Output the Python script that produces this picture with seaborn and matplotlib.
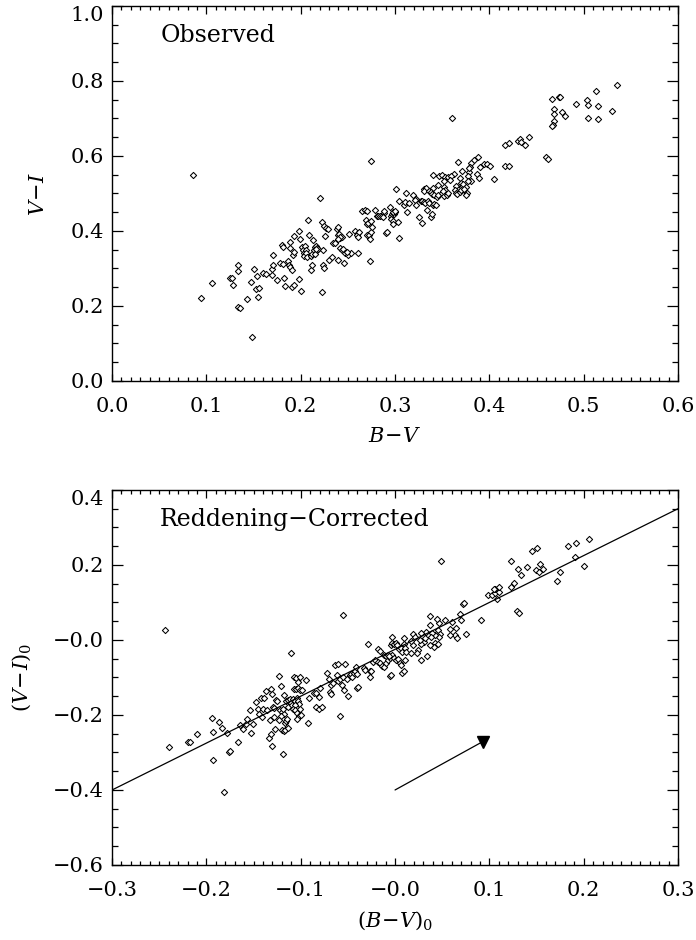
import matplotlib
matplotlib.use("Agg")
import numpy as np
import pandas as pd
import seaborn as sns
import matplotlib.pyplot as plt
from matplotlib.ticker import MultipleLocator

# ---------------- data: observed colours ----------------
bv_obs = [
    0.086, 0.275, 0.220, 0.094, 0.106, 0.125, 0.127, 0.128, 0.133, 0.134,
    0.134, 0.136, 0.148, 0.143, 0.147, 0.150, 0.154, 0.153, 0.156, 0.155,
    0.160, 0.163, 0.170, 0.170, 0.171, 0.171, 0.175, 0.178, 0.181, 0.180,
    0.181, 0.182, 0.183, 0.187, 0.188, 0.189, 0.189, 0.189, 0.191, 0.191,
    0.192, 0.193, 0.193, 0.193, 0.198, 0.198, 0.199, 0.200, 0.201, 0.202,
    0.203, 0.203, 0.205, 0.206, 0.206, 0.207, 0.208, 0.209, 0.211, 0.212,
    0.211, 0.212, 0.213, 0.214, 0.215, 0.216, 0.217, 0.217, 0.218, 0.215,
    0.216, 0.223, 0.224, 0.224, 0.225, 0.223, 0.225, 0.227, 0.229, 0.226,
    0.230, 0.233, 0.234, 0.236, 0.239, 0.238, 0.240, 0.240, 0.241, 0.242,
    0.244, 0.242, 0.240, 0.242, 0.244, 0.245, 0.247, 0.250, 0.253, 0.249,
    0.246, 0.251, 0.258, 0.261, 0.260, 0.262, 0.261, 0.261, 0.265, 0.268,
    0.270, 0.269, 0.270, 0.271, 0.270, 0.272, 0.273, 0.274, 0.273, 0.275,
    0.276, 0.279, 0.281, 0.282, 0.284, 0.286, 0.288, 0.287, 0.288, 0.290,
    0.291, 0.296, 0.297, 0.299, 0.300, 0.298, 0.300, 0.295, 0.296, 0.298,
    0.298, 0.303, 0.304, 0.301, 0.304, 0.309, 0.311, 0.312, 0.313, 0.315,
    0.360, 0.535, 0.466, 0.474, 0.475, 0.469, 0.468, 0.469, 0.467, 0.466,
    0.477, 0.480, 0.492, 0.503, 0.505, 0.505, 0.513, 0.515, 0.515, 0.530,
    0.460, 0.462, 0.442, 0.438, 0.430, 0.432, 0.433, 0.417, 0.421, 0.417,
    0.421, 0.405, 0.388, 0.384, 0.380, 0.379, 0.378, 0.378, 0.367, 0.394,
    0.397, 0.401, 0.390, 0.387, 0.389, 0.377, 0.380, 0.377, 0.371, 0.363,
    0.340, 0.347, 0.350, 0.353, 0.356, 0.359, 0.358, 0.352, 0.369, 0.370,
    0.346, 0.352, 0.365, 0.368, 0.371, 0.372, 0.375, 0.331, 0.333, 0.331,
    0.340, 0.336, 0.338, 0.339, 0.341, 0.319, 0.322, 0.321, 0.322, 0.327,
    0.329, 0.331, 0.332, 0.335, 0.336, 0.340, 0.341, 0.343, 0.344, 0.346,
    0.350, 0.352, 0.353, 0.355, 0.356, 0.351, 0.364, 0.365, 0.366, 0.369,
    0.370, 0.373, 0.376, 0.375, 0.325, 0.329, 0.338, 0.339, 0.334,
]
vi_obs = [
    0.549, 0.587, 0.487, 0.220, 0.261, 0.274, 0.275, 0.256, 0.292, 0.310,
    0.198, 0.195, 0.117, 0.219, 0.263, 0.298, 0.280, 0.244, 0.249, 0.224,
    0.289, 0.285, 0.283, 0.298, 0.309, 0.337, 0.270, 0.315, 0.312, 0.362,
    0.356, 0.275, 0.254, 0.320, 0.309, 0.355, 0.305, 0.370, 0.251, 0.297,
    0.335, 0.345, 0.257, 0.386, 0.273, 0.399, 0.379, 0.239, 0.357, 0.349,
    0.341, 0.332, 0.360, 0.349, 0.340, 0.330, 0.428, 0.390, 0.332, 0.339,
    0.296, 0.309, 0.376, 0.349, 0.357, 0.360, 0.349, 0.354, 0.351, 0.339,
    0.352, 0.424, 0.349, 0.309, 0.301, 0.237, 0.412, 0.408, 0.405, 0.386,
    0.323, 0.330, 0.367, 0.368, 0.323, 0.404, 0.410, 0.389, 0.392, 0.380,
    0.385, 0.385, 0.378, 0.355, 0.349, 0.352, 0.342, 0.336, 0.342, 0.344,
    0.315, 0.393, 0.400, 0.395, 0.390, 0.397, 0.385, 0.342, 0.454, 0.457,
    0.452, 0.430, 0.418, 0.420, 0.390, 0.388, 0.379, 0.396, 0.319, 0.426,
    0.411, 0.457, 0.440, 0.440, 0.441, 0.440, 0.449, 0.438, 0.452, 0.395,
    0.396, 0.441, 0.444, 0.446, 0.450, 0.450, 0.453, 0.465, 0.432, 0.426,
    0.419, 0.425, 0.381, 0.513, 0.481, 0.469, 0.477, 0.500, 0.450, 0.475,
    0.700, 0.789, 0.752, 0.757, 0.757, 0.725, 0.712, 0.693, 0.682, 0.681,
    0.716, 0.707, 0.739, 0.750, 0.735, 0.702, 0.772, 0.733, 0.698, 0.719,
    0.598, 0.593, 0.650, 0.630, 0.641, 0.644, 0.637, 0.628, 0.634, 0.573,
    0.574, 0.538, 0.596, 0.588, 0.580, 0.570, 0.556, 0.567, 0.585, 0.579,
    0.579, 0.574, 0.570, 0.552, 0.542, 0.547, 0.532, 0.534, 0.560, 0.553,
    0.548, 0.547, 0.548, 0.545, 0.545, 0.547, 0.536, 0.534, 0.540, 0.527,
    0.522, 0.518, 0.521, 0.513, 0.516, 0.526, 0.518, 0.513, 0.515, 0.506,
    0.514, 0.507, 0.505, 0.498, 0.497, 0.497, 0.484, 0.483, 0.468, 0.480,
    0.481, 0.477, 0.474, 0.481, 0.474, 0.470, 0.472, 0.470, 0.490, 0.497,
    0.502, 0.493, 0.508, 0.497, 0.502, 0.506, 0.508, 0.500, 0.499, 0.504,
    0.508, 0.511, 0.502, 0.496, 0.436, 0.420, 0.438, 0.446, 0.456,
]

# ---------------- data: reddening-corrected colours ----------------
bv_0 = [
    -0.244, -0.240, -0.219, -0.217, -0.210, -0.194, -0.193, -0.193, -0.187, -0.183,
    -0.181, -0.178, -0.176, -0.175, -0.167, -0.164, -0.161, -0.158, -0.157, -0.154,
    -0.153, -0.151, -0.147, -0.145, -0.144, -0.142, -0.139, -0.141, -0.140, -0.136,
    -0.137, -0.134, -0.133, -0.132, -0.131, -0.130, -0.130, -0.129, -0.128, -0.128,
    -0.127, -0.126, -0.125, -0.123, -0.122, -0.120, -0.118, -0.119, -0.121, -0.123,
    -0.121, -0.120, -0.118, -0.117, -0.119, -0.118, -0.117, -0.116, -0.116, -0.114,
    -0.113, -0.113, -0.115, -0.111, -0.110, -0.109, -0.110, -0.107, -0.105, -0.107,
    -0.105, -0.103, -0.103, -0.101, -0.108, -0.106, -0.104, -0.103, -0.102, -0.106,
    -0.108, -0.106, -0.104, -0.101, -0.102, -0.100, -0.104, -0.101, -0.099, -0.094,
    -0.092, -0.091, -0.086, -0.084, -0.084, -0.081, -0.077, -0.081, -0.080, -0.072,
    -0.070, -0.068, -0.069, -0.068, -0.066, -0.064, -0.061, -0.062, -0.060, -0.058,
    -0.058, -0.056, -0.055, -0.054, -0.053, -0.051, -0.050, -0.048, -0.047, -0.046,
    -0.044, -0.042, -0.041, -0.040, -0.040, -0.039, -0.033, -0.032, -0.027, -0.025,
    -0.029, -0.027, -0.023, -0.021, -0.018, -0.016, -0.018, -0.016, -0.014, -0.012,
    -0.012, -0.010, -0.008, -0.010, -0.007, -0.005, -0.003, -0.006, -0.004, -0.003,
    -0.001, 0.001, 0.002, -0.003, 0.004, 0.006, 0.007, 0.009, 0.010, 0.011,
    0.012, -0.001, 0.001, 0.003, -0.005, -0.004, 0.007, 0.009, 0.005, 0.006,
    0.011, -0.055, 0.049, 0.123, 0.130, 0.134, 0.140, 0.145, 0.150, 0.149,
    0.153, 0.157, 0.154, 0.172, 0.175, 0.183, 0.192, 0.191, 0.200, 0.206,
    0.123, 0.126, 0.129, 0.131, 0.108, 0.099, 0.103, 0.106, 0.110, 0.106,
    0.110, 0.105, 0.091, 0.072, 0.073, 0.069, 0.070, 0.075, 0.065, 0.064,
    0.066, 0.058, 0.058, 0.060, 0.053, 0.047, 0.044, 0.037, 0.046, 0.048,
    0.047, 0.042, 0.039, 0.038, 0.037, 0.042, 0.046, 0.041, 0.037, 0.031,
    0.028, 0.032, 0.033, 0.028, 0.019, 0.021, 0.026, 0.024, 0.023, 0.019,
    0.017, 0.017, 0.028, 0.034,
]
vi_0 = [
    0.026, -0.285, -0.272, -0.272, -0.251, -0.208, -0.245, -0.321, -0.219, -0.235,
    -0.406, -0.248, -0.299, -0.296, -0.273, -0.228, -0.238, -0.225, -0.212, -0.187,
    -0.249, -0.223, -0.165, -0.184, -0.198, -0.154, -0.154, -0.205, -0.183, -0.187,
    -0.136, -0.262, -0.213, -0.251, -0.131, -0.144, -0.283, -0.178, -0.181, -0.205,
    -0.237, -0.160, -0.164, -0.095, -0.187, -0.192, -0.197, -0.185, -0.203, -0.213,
    -0.123, -0.240, -0.242, -0.240, -0.305, -0.147, -0.222, -0.215, -0.164, -0.160,
    -0.180, -0.236, -0.210, -0.157, -0.167, -0.174, -0.035, -0.098, -0.102, -0.132,
    -0.130, -0.128, -0.113, -0.100, -0.158, -0.164, -0.156, -0.162, -0.171, -0.174,
    -0.185, -0.188, -0.194, -0.183, -0.204, -0.199, -0.210, -0.133, -0.133, -0.107,
    -0.221, -0.155, -0.142, -0.142, -0.179, -0.183, -0.180, -0.151, -0.129, -0.089,
    -0.105, -0.121, -0.138, -0.144, -0.116, -0.067, -0.063, -0.094, -0.109, -0.105,
    -0.204, -0.119, -0.098, -0.134, -0.064, -0.103, -0.149, -0.093, -0.091, -0.098,
    -0.089, -0.083, -0.073, -0.092, -0.129, -0.126, -0.076, -0.079, -0.084, -0.083,
    -0.010, -0.098, -0.058, -0.053, -0.058, -0.062, -0.024, -0.029, -0.069, -0.073,
    -0.040, -0.043, -0.039, -0.062, -0.053, -0.049, -0.040, -0.044, -0.014, -0.009,
    -0.011, -0.009, -0.014, 0.007, -0.025, -0.022, -0.031, 0.004, -0.011, -0.021,
    -0.032, -0.048, -0.053, -0.052, -0.096, -0.093, -0.087, -0.084, -0.062, -0.066,
    -0.053, 0.067, 0.210, 0.211, 0.189, 0.173, 0.194, 0.236, 0.246, 0.187,
    0.181, 0.190, 0.203, 0.157, 0.181, 0.250, 0.259, 0.221, 0.197, 0.268,
    0.140, 0.153, 0.076, 0.071, 0.109, 0.119, 0.121, 0.124, 0.128, 0.137,
    0.142, 0.135, 0.052, 0.095, 0.099, 0.068, 0.053, 0.016, 0.031, 0.013,
    0.004, 0.030, 0.013, 0.049, 0.053, 0.046, 0.055, 0.064, 0.026, 0.015,
    0.009, 0.013, 0.018, 0.009, 0.039, -0.007, -0.012, -0.018, -0.013, -0.005,
    -0.011, 0.005, 0.022, 0.018, 0.016, 0.009, 0.000, -0.027, -0.036, -0.014,
    -0.003, -0.036, -0.053, -0.043,
]

# linear fit of corrected colours and reddening vector
fit_slope = 1.25
fit_intercept = -0.025
red_start = (0.0, -0.40)
red_vec = (0.093, 0.129)

# tick labels
top_xticks = [0.0, 0.1, 0.2, 0.3, 0.4, 0.5, 0.6]
top_xlabels = ["0.0", "0.1", "0.2", "0.3", "0.4", "0.5", "0.6"]
top_yticks = [0.0, 0.2, 0.4, 0.6, 0.8, 1.0]
top_ylabels = ["0.0", "0.2", "0.4", "0.6", "0.8", "1.0"]
bot_xticks = [-0.3, -0.2, -0.1, 0.0, 0.1, 0.2, 0.3]
bot_xlabels = ["\u22120.3", "\u22120.2", "\u22120.1", "\u22120.0", "0.1", "0.2", "0.3"]
bot_yticks = [-0.6, -0.4, -0.2, 0.0, 0.2, 0.4]
bot_ylabels = ["\u22120.6", "\u22120.4", "\u22120.2", "\u22120.0", "0.2", "0.4"]

df_obs = pd.DataFrame({"bv": bv_obs, "vi": vi_obs})
df_0 = pd.DataFrame({"bv": bv_0, "vi": vi_0})

sns.set_style("ticks")
plt.rcParams["font.family"] = ["DejaVu Serif"]
plt.rcParams["mathtext.fontset"] = "dejavuserif"
plt.rcParams["axes.linewidth"] = 1.0
plt.rcParams["text.color"] = "black"
plt.rcParams["axes.labelcolor"] = "black"
plt.rcParams["xtick.color"] = "black"
plt.rcParams["ytick.color"] = "black"

fig = plt.figure(figsize=(6.96, 9.40), dpi=100)
ax1 = fig.add_axes([0.161, 0.5947, 0.8132, 0.399])
ax2 = fig.add_axes([0.161, 0.0798, 0.8132, 0.399])


def style_axes(ax, xlim, ylim, xt, xl, yt, yl):
    ax.set_xlim(*xlim)
    ax.set_ylim(*ylim)
    ax.set_xticks(xt, xl)
    ax.set_yticks(yt, yl)
    ax.xaxis.set_minor_locator(MultipleLocator(0.01))
    ax.yaxis.set_minor_locator(MultipleLocator(0.05))
    ax.tick_params(axis="both", which="both", direction="in", top=True,
                   right=True, colors="black", labelcolor="black", width=0.9)
    ax.tick_params(axis="x", which="major", length=5.4, pad=11.5, labelsize=15)
    ax.tick_params(axis="x", which="minor", length=2.7)
    ax.tick_params(axis="y", which="major", length=8.1, pad=5.8, labelsize=15)
    ax.tick_params(axis="y", which="minor", length=4.1)
    for s in ax.spines.values():
        s.set_color("black")
        s.set_linewidth(1.0)
    # the top-most y label sits just below its tick, as in the original
    ax.get_yticklabels()[-1].set_va("top")


marker_kw = dict(marker="D", s=10, color="white", edgecolor="black",
                 linewidth=0.75, legend=False)

sns.scatterplot(data=df_obs, x="bv", y="vi", ax=ax1, **marker_kw)
style_axes(ax1, (0.0, 0.6), (0.0, 1.0), top_xticks, top_xlabels,
           top_yticks, top_ylabels)
ax1.set_xlabel(r"$B\!-\!V$", fontsize=15, color="black")
ax1.set_ylabel(r"$V\!-\!I$", fontsize=15, color="black")
ax1.xaxis.set_label_coords(0.5, -0.122)
ax1.yaxis.set_label_coords(-0.113, 0.5)
ax1.text(0.085, 0.92, "Observed", transform=ax1.transAxes, fontsize=17,
         va="center", ha="left", color="black")

sns.scatterplot(data=df_0, x="bv", y="vi", ax=ax2, **marker_kw)
style_axes(ax2, (-0.3, 0.3), (-0.6, 0.4), bot_xticks, bot_xlabels,
           bot_yticks, bot_ylabels)
fit_x = np.array(ax2.get_xlim())
sns.lineplot(x=fit_x, y=fit_slope * fit_x + fit_intercept, ax=ax2,
             color="black", linewidth=0.9)
arr_x = np.array([red_start[0], red_start[0] + red_vec[0]])
arr_y = np.array([red_start[1], red_start[1] + red_vec[1]])
sns.lineplot(x=arr_x, y=arr_y, ax=ax2, color="black", linewidth=0.9)
ax2.plot(arr_x[-1:], arr_y[-1:], marker="v", markersize=9, color="black",
         linestyle="none")
ax2.set_xlim(-0.3, 0.3)
ax2.set_ylim(-0.6, 0.4)
ax2.set_xlabel(r"$(B\!-\!V)_0$", fontsize=15, color="black")
ax2.set_ylabel(r"$(V\!-\!I)_0$", fontsize=15, color="black")
ax2.xaxis.set_label_coords(0.5, -0.118)
ax2.yaxis.set_label_coords(-0.14, 0.5)
ax2.text(0.085, 0.92, "Reddening\u2212Corrected", transform=ax2.transAxes,
         fontsize=17, va="center", ha="left", color="black")

fig.savefig("out.png", dpi=100)
